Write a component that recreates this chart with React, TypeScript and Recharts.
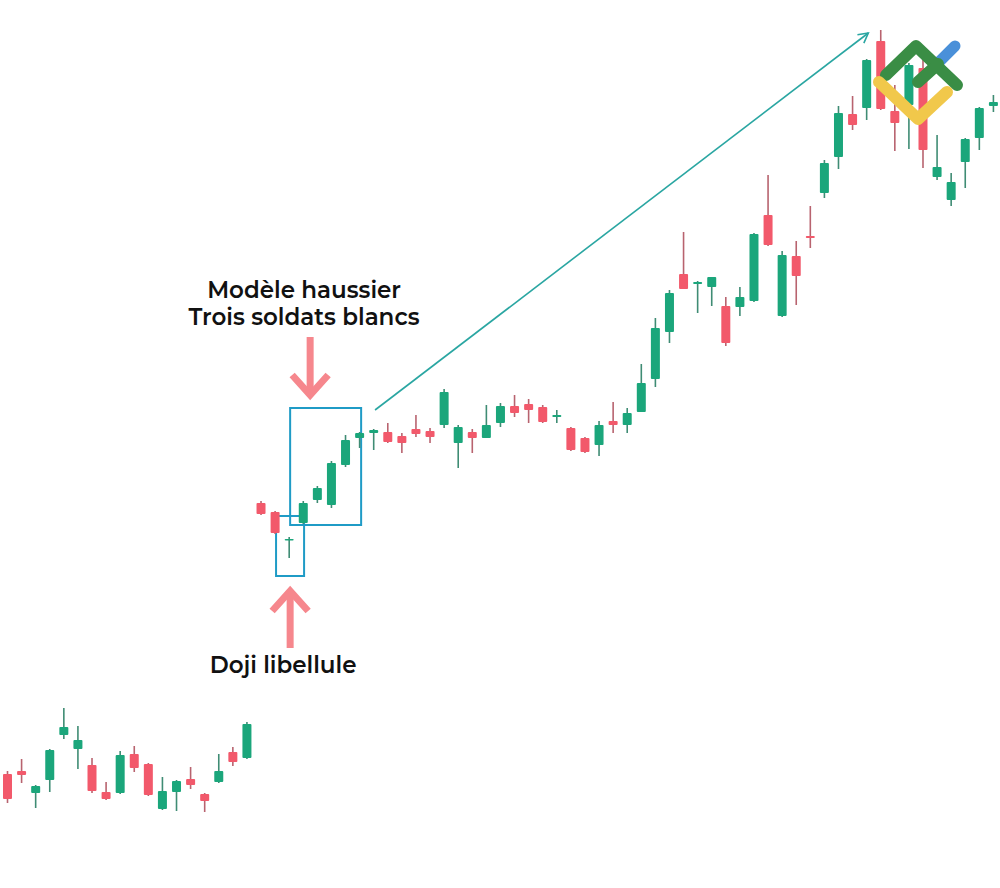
import React from 'react';
import {
  ComposedChart,
  Bar,
  XAxis,
  YAxis,
  ReferenceArea,
  ReferenceLine,
  ReferenceDot,
} from 'recharts';

// prix (unités arbitraires, sans axe visible)
const opens = [
  114, 117, 95, 108, 153, 139, 123, 96, 95, 134, 124, 79, 96, 109, 94, 106, 136, 130,
  385, 376, 348, 365, 388, 383, 423, 450, 455, 456, 452, 459, 457, 463, 445, 456, 450,
  465, 482, 484, 481, 471, 460, 450, 443, 467, 463, 476, 509, 556, 614, 604, 601, 582,
  581, 587, 673, 572, 632, 652, 695, 731, 774, 780, 847, 777, 783, 820, 711, 688, 726,
  750, 782,
];
const highs = [
  117, 129, 103, 139, 180, 162, 130, 106, 137, 142, 125, 111, 108, 121, 95, 134, 141, 166,
  387, 377, 351, 387, 402, 427, 453, 456, 459, 465, 455, 473, 460, 499, 463, 459, 483,
  485, 493, 489, 483, 478, 461, 451, 467, 486, 480, 524, 570, 598, 656, 607, 611, 591,
  601, 655, 713, 637, 647, 682, 728, 782, 792, 829, 858, 803, 825, 830, 753, 715, 750,
  781, 793,
];
const lows = [
  85, 105, 80, 96, 149, 119, 95, 88, 94, 116, 92, 78, 77, 99, 76, 105, 122, 129,
  373, 354, 330, 364, 385, 380, 421, 440, 438, 445, 435, 451, 445, 460, 420, 435, 450,
  461, 471, 465, 465, 465, 437, 435, 432, 455, 455, 476, 501, 545, 599, 575, 582, 542,
  572, 586, 642, 571, 583, 640, 690, 719, 758, 768, 778, 737, 739, 720, 708, 682, 700,
  738, 776,
];
const closes = [
  89, 113, 102, 138, 161, 148, 97, 89, 133, 120, 93, 97, 107, 103, 87, 117, 126, 164,
  374, 355, 349, 385, 400, 425, 448, 455, 458, 446, 445, 454, 451, 496, 461, 450, 463,
  482, 475, 478, 466, 473, 438, 436, 463, 463, 475, 505, 560, 595, 599, 606, 611, 545,
  591, 654, 643, 633, 612, 650, 725, 775, 763, 828, 779, 765, 823, 738, 721, 706, 749,
  780, 786,
];

const candles = opens.map((open, i) => ({
  i,
  open,
  high: highs[i],
  low: lows[i],
  close: closes[i],
}));

const GREEN = '#1ba67b';
const RED = '#f2596b';
const GREEN_WICK = '#3f8c74';
const RED_WICK = '#b8636f';
const BOX = '#1f9bc6';
const TEAL = '#2aa6a2';
const PINK = '#f6878d';

const Candle = (props: any) => {
  const { x, y, width, height, payload } = props;
  const { open, close, high, low } = payload;
  const up = close >= open;
  const top = Math.min(y, y + height);
  const h = Math.abs(height);
  const px = h / (high - low);
  const cx = x + width / 2;
  const bodyTop = top + (high - Math.max(open, close)) * px;
  const bodyH = Math.max(Math.abs(close - open) * px, 1.5);
  return (
    <g>
      <line x1={cx} x2={cx} y1={top} y2={top + h} stroke={up ? GREEN_WICK : RED_WICK} strokeWidth={1.6} />
      <rect x={x} y={bodyTop} width={width} height={bodyH} fill={up ? GREEN : RED} rx={1} />
    </g>
  );
};

const TrendArrow = (p: any) => {
  const { x1, y1, x2, y2 } = p;
  const ang = Math.atan2(y2 - y1, x2 - x1);
  const L = 11;
  const a = 0.5;
  const ax = x2 - L * Math.cos(ang - a);
  const ay = y2 - L * Math.sin(ang - a);
  const bx = x2 - L * Math.cos(ang + a);
  const by = y2 - L * Math.sin(ang + a);
  return (
    <g>
      <line x1={x1} y1={y1} x2={x2} y2={y2} stroke={TEAL} strokeWidth={1.6} />
      <polyline points={`${ax},${ay} ${x2},${y2} ${bx},${by}`} fill="none" stroke={TEAL} strokeWidth={1.6} />
    </g>
  );
};

// flèche épaisse rose, la pointe est au point (x2, y2)
const PinkArrow = (p: any) => {
  const { x1, y1, x2, y2 } = p;
  const dir = y2 > y1 ? 1 : -1;
  const tip = y2 - dir * 3;
  return (
    <g>
      <line x1={x1} y1={y1} x2={x2} y2={tip - dir * 4} stroke={PINK} strokeWidth={7} />
      <polyline
        points={`${x2 - 18},${tip - dir * 20} ${x2},${tip} ${x2 + 18},${tip - dir * 20}`}
        fill="none"
        stroke={PINK}
        strokeWidth={7}
        strokeLinejoin="miter"
      />
    </g>
  );
};

const textStyle = {
  fontFamily: "Montserrat, 'Open Sans', sans-serif",
  fontWeight: 600,
  fontSize: 23,
  fill: '#111',
};

const Caption = (text: string) => (p: any) => (
  <text x={p.cx} y={p.cy} textAnchor="middle" style={textStyle}>
    {text}
  </text>
);

const Logo = () => (
  <svg
    width={1000}
    height={888}
    style={{ position: 'absolute', left: 0, top: 0, pointerEvents: 'none' }}
  >
    <line x1={933} y1={68} x2={955} y2={46} stroke="#4a90d9" strokeWidth={11} strokeLinecap="round" />
    <polyline points="886,75 916,46 957,85" fill="none" stroke="#3a8d45" strokeWidth={12} strokeLinecap="round" strokeLinejoin="round" />
    <line x1={918} y1={82} x2={938} y2={64} stroke="#3a8d45" strokeWidth={12} strokeLinecap="round" />
    <polyline points="879,82 918,119 947,92" fill="none" stroke="#f1c84b" strokeWidth={12} strokeLinecap="round" strokeLinejoin="round" />
  </svg>
);

export default function App() {
  return (
    <div style={{ position: 'absolute', left: 0, top: 0, width: 1000, height: 888, background: '#fff' }}>
      <ComposedChart width={1000} height={888} data={candles} margin={{ top: 0, right: 0, left: 0, bottom: 0 }}>
        <XAxis dataKey="i" type="number" domain={[-0.5, 70.5]} hide />
        <YAxis type="number" domain={[0, 888]} hide />
        <Bar
          dataKey={(d: any) => [d.low, d.high]}
          barSize={9}
          shape={<Candle />}
          isAnimationActive={false}
        />
        <ReferenceArea x1={20.1} x2={25.14} y1={363} y2={480} fill="none" fillOpacity={0} stroke={BOX} strokeWidth={2} ifOverflow="visible" />
        <ReferenceArea x1={19.1} x2={21.09} y1={312} y2={372} fill="none" fillOpacity={0} stroke={BOX} strokeWidth={2} ifOverflow="visible" />
        <ReferenceLine segment={[{ x: 26.13, y: 478 }, { x: 61.15, y: 855 }]} shape={TrendArrow} ifOverflow="visible" />
        <ReferenceLine segment={[{ x: 21.52, y: 551 }, { x: 21.52, y: 490 }]} shape={PinkArrow} ifOverflow="visible" />
        <ReferenceLine segment={[{ x: 20.1, y: 240 }, { x: 20.1, y: 300 }]} shape={PinkArrow} ifOverflow="visible" />
        <ReferenceDot x={21.09} y={590} r={0} shape={Caption('Modèle haussier')} ifOverflow="visible" />
        <ReferenceDot x={21.09} y={563} r={0} shape={Caption('Trois soldats blancs')} ifOverflow="visible" />
        <ReferenceDot x={19.6} y={215} r={0} shape={Caption('Doji libellule')} ifOverflow="visible" />
      </ComposedChart>
      <Logo />
    </div>
  );
}
